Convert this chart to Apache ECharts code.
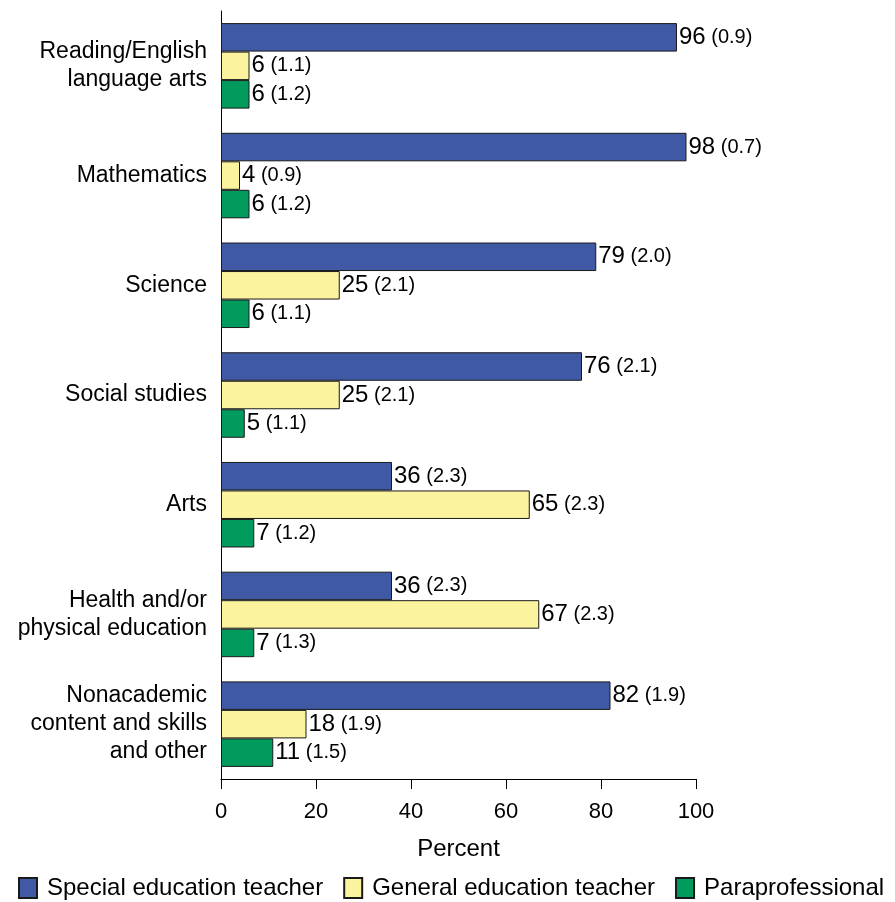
<!DOCTYPE html>
<html>
<head>
<meta charset="utf-8">
<script src="https://cdn.jsdelivr.net/npm/echarts@6/dist/echarts.min.js"></script>
<style>
html,body{margin:0;padding:0;background:#fff;}
#root{width:895px;height:902px;}
</style>
</head>
<body>
<div id="root"></div>
<script>
var categories = ["Reading/English\nlanguage arts", "Mathematics", "Science", "Social studies", "Arts", "Health and/or\nphysical education", "Nonacademic\ncontent and skills\nand other"];
var specialValues = [96, 98, 79, 76, 36, 36, 82];
var specialSE = [0.9, 0.7, 2.0, 2.1, 2.3, 2.3, 1.9];
var generalValues = [6, 4, 25, 25, 65, 67, 18];
var generalSE = [1.1, 0.9, 2.1, 2.1, 2.3, 2.3, 1.9];
var paraValues = [6, 6, 6, 5, 7, 7, 11];
var paraSE = [1.2, 1.2, 1.1, 1.1, 1.2, 1.3, 1.5];
var xTicks = [0, 20, 40, 60, 80, 100];

var font = "Liberation Sans, Arial, sans-serif";

function makeSeries(name, vals, se, color) {
    return {
        name: name,
        type: 'bar',
        barWidth: 28.5,
        barGap: '0%',
        data: vals.map(function (v, i) { return { value: v, se: se[i] }; }),
        itemStyle: { color: color, borderColor: '#1a1a1a', borderWidth: 1 },
        label: {
            show: true,
            position: 'right',
            distance: 2,
            formatter: function (p) {
                return '{v|' + p.value + '}{s| (' + p.data.se.toFixed(1) + ')}';
            },
            rich: {
                v: { fontSize: 24, color: '#000', fontFamily: font },
                s: { fontSize: 20, color: '#000', fontFamily: font }
            }
        }
    };
}

var myChart = echarts.init(document.getElementById('root'));
var option = {
    animation: false,
    textStyle: { fontFamily: font },
    grid: { left: 221, right: 199, top: 11, bottom: 123 },
    legend: {
        bottom: 2,
        left: 18,
        width: 877,
        padding: 0,
        itemWidth: 18,
        itemHeight: 20,
        itemGap: 20,
        icon: 'rect',
        textStyle: { fontSize: 24, color: '#000', fontFamily: font, padding: [0, 0, 0, 5] },
        data: ['Special education teacher', 'General education teacher', 'Paraprofessional']
    },
    xAxis: {
        type: 'value',
        min: 0,
        max: 100,
        interval: 20,
        name: 'Percent',
        nameLocation: 'middle',
        nameGap: 58,
        nameTextStyle: { fontSize: 24, color: '#000', fontFamily: font },
        axisLine: { show: true, lineStyle: { color: '#000', width: 1 } },
        axisTick: { show: true, length: 10, lineStyle: { color: '#000' } },
        axisLabel: {
            fontSize: 22, color: '#000', margin: 22, fontFamily: font,
            formatter: function (v) { return xTicks.indexOf(v) >= 0 ? String(v) : ''; }
        },
        splitLine: { show: false }
    },
    yAxis: {
        type: 'category',
        inverse: true,
        data: categories,
        axisLine: { show: true, lineStyle: { color: '#000', width: 1 } },
        axisTick: { show: false },
        axisLabel: { fontSize: 23, color: '#000', margin: 14, lineHeight: 28, align: 'right', fontFamily: font }
    },
    series: [
        makeSeries('Special education teacher', specialValues, specialSE, '#3f59a5'),
        makeSeries('General education teacher', generalValues, generalSE, '#fbf39d'),
        makeSeries('Paraprofessional', paraValues, paraSE, '#009b5d')
    ]
};
myChart.setOption(option);
</script>
</body>
</html>
